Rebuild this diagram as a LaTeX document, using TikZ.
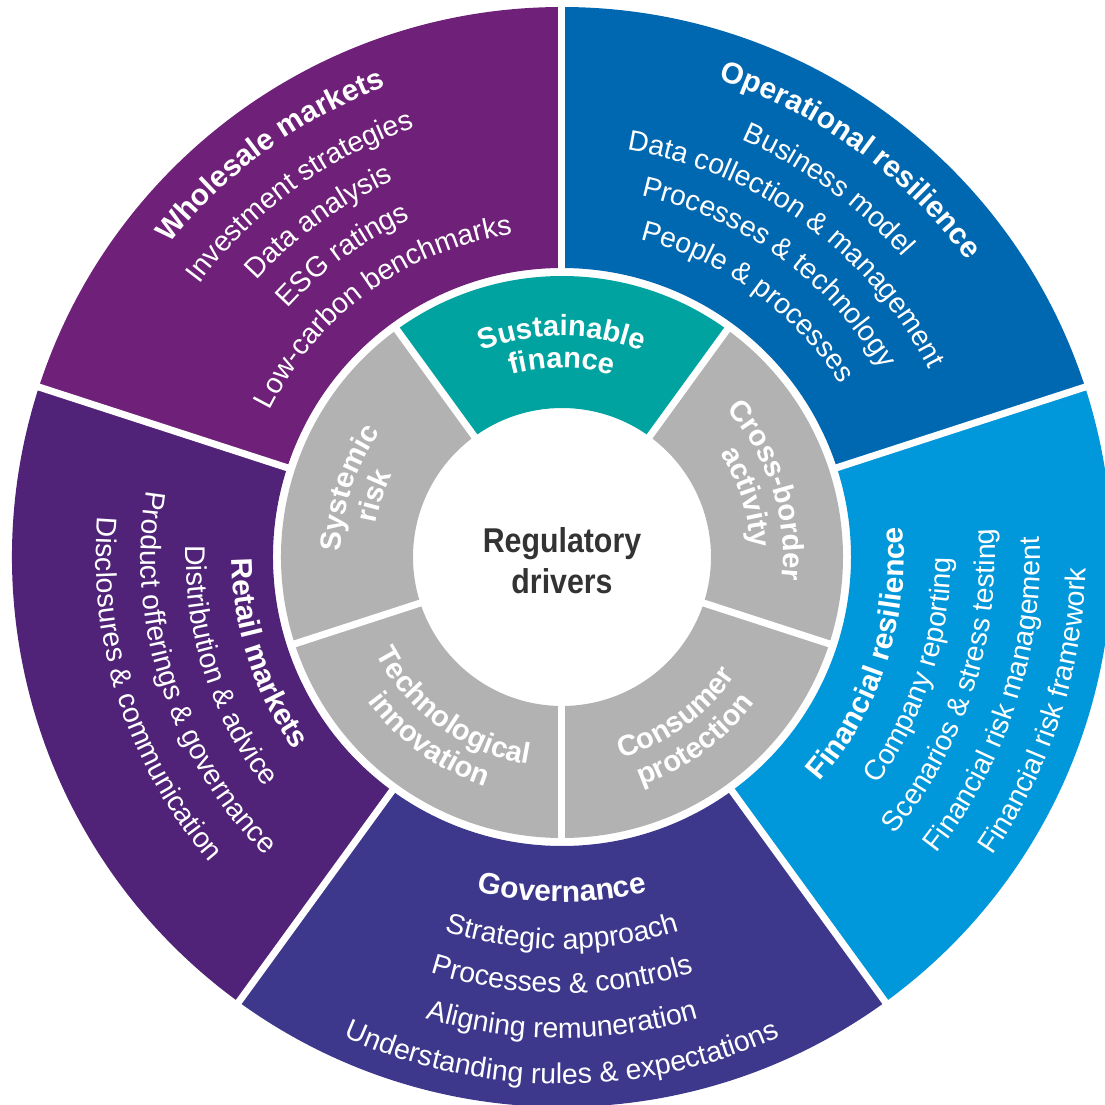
\documentclass[tikz,border=0pt]{standalone}
\usepackage{fontspec}
\setmainfont{Liberation Sans}
\newfontfamily\hubfont{Liberation Sans}[FakeStretch=0.88]
\usetikzlibrary{decorations.text}

\definecolor{wholesale}{HTML}{6F2079}
\definecolor{operational}{HTML}{0067B1}
\definecolor{financial}{HTML}{0098DA}
\definecolor{governance}{HTML}{3E388D}
\definecolor{retail}{HTML}{502278}
\definecolor{sustain}{HTML}{00A39F}
\definecolor{driver}{HTML}{B2B2B2}
\definecolor{hubtext}{HTML}{333333}

\newcommand\wheelhead{\fontsize{8.5}{10}\selectfont\bfseries}
\newcommand\wheelitem{\fontsize{8.1}{9.5}\selectfont}
\newcommand\wheeldriver{\fontsize{8.3}{9.5}\selectfont\bfseries}

\tikzset{
  gap/.style={white, line width=0.07cm},
  ringtext/.style={decorate, decoration={text along path, text align=center, text color=white, text={#1}}},
}

\begin{document}
\begin{tikzpicture}
  \useasboundingbox (-5.62,-5.48) rectangle (5.43,5.57);
  \clip (-5.62,-5.48) rectangle (5.43,5.57);

  % outer ring
  \fill[wholesale] (90:2.89) arc[start angle=90, end angle=162, radius=2.89] -- (162:5.5) arc[start angle=162, end angle=90, radius=5.5] -- cycle;
  \fill[operational] (18:2.89) arc[start angle=18, end angle=90, radius=2.89] -- (90:5.5) arc[start angle=90, end angle=18, radius=5.5] -- cycle;
  \fill[financial] (-54:2.89) arc[start angle=-54, end angle=18, radius=2.89] -- (18:5.5) arc[start angle=18, end angle=-54, radius=5.5] -- cycle;
  \fill[governance] (-126:2.89) arc[start angle=-126, end angle=-54, radius=2.89] -- (-54:5.5) arc[start angle=-54, end angle=-126, radius=5.5] -- cycle;
  \fill[retail] (162:2.89) arc[start angle=162, end angle=234, radius=2.89] -- (234:5.5) arc[start angle=234, end angle=162, radius=5.5] -- cycle;

  % inner ring
  \fill[sustain] (54:1.49) arc[start angle=54, end angle=126, radius=1.49] -- (126:2.81) arc[start angle=126, end angle=54, radius=2.81] -- cycle;
  \fill[driver] (-18:1.49) arc[start angle=-18, end angle=54, radius=1.49] -- (54:2.81) arc[start angle=54, end angle=-18, radius=2.81] -- cycle;
  \fill[driver] (-90:1.49) arc[start angle=-90, end angle=-18, radius=1.49] -- (-18:2.81) arc[start angle=-18, end angle=-90, radius=2.81] -- cycle;
  \fill[driver] (-162:1.49) arc[start angle=-162, end angle=-90, radius=1.49] -- (-90:2.81) arc[start angle=-90, end angle=-162, radius=2.81] -- cycle;
  \fill[driver] (126:1.49) arc[start angle=126, end angle=198, radius=1.49] -- (198:2.81) arc[start angle=198, end angle=126, radius=2.81] -- cycle;

  \draw[gap] (90:2.85) -- (90:5.6);
  \draw[gap] (18:2.85) -- (18:5.6);
  \draw[gap] (-54:2.85) -- (-54:5.6);
  \draw[gap] (-126:2.85) -- (-126:5.6);
  \draw[gap] (162:2.85) -- (162:5.6);
  \draw[gap] (54:1.45) -- (54:2.85);
  \draw[gap] (-18:1.45) -- (-18:2.85);
  \draw[gap] (-90:1.45) -- (-90:2.85);
  \draw[gap] (-162:1.45) -- (-162:2.85);
  \draw[gap] (126:1.45) -- (126:2.85);

  \node[font=\hubfont\fontsize{9.8}{11.6}\selectfont\bfseries, text=hubtext, align=center] (hub) at (0,-0.04) {Regulatory\\drivers};

  % wholesale markets
  \path[ringtext={|\wheelhead|Wholesale markets}] (166:5.02) arc[start angle=166, end angle=86, radius=5.02];
  \path[ringtext={|\wheelitem|Investment strategies}] (166:4.54) arc[start angle=166, end angle=86, radius=4.54];
  \path[ringtext={|\wheelitem|Data analysis}] (166:4.12) arc[start angle=166, end angle=86, radius=4.12];
  \path[ringtext={|\wheelitem|ESG ratings}] (166:3.70) arc[start angle=166, end angle=86, radius=3.70];
  \path[ringtext={|\wheelitem|Low-carbon benchmarks}] (166:3.27) arc[start angle=166, end angle=86, radius=3.27];

  % operational resilience
  \path[ringtext={|\wheelhead|Operational resilience}] (94:5.02) arc[start angle=94, end angle=14, radius=5.02];
  \path[ringtext={|\wheelitem|Business model}] (94:4.54) arc[start angle=94, end angle=14, radius=4.54];
  \path[ringtext={|\wheelitem|Data collection {\&} management}] (94:4.12) arc[start angle=94, end angle=14, radius=4.12];
  \path[ringtext={|\wheelitem|Processes {\&} technology}] (94:3.70) arc[start angle=94, end angle=14, radius=3.70];
  \path[ringtext={|\wheelitem|People {\&} processes}] (94:3.27) arc[start angle=94, end angle=14, radius=3.27];

  % financial resilience
  \path[ringtext={|\wheelhead|Financial resilience}] (-58:3.42) arc[start angle=-58, end angle=22, radius=3.42];
  \path[ringtext={|\wheelitem|Company reporting}] (-58:3.89) arc[start angle=-58, end angle=22, radius=3.89];
  \path[ringtext={|\wheelitem|Scenarios {\&} stress testing}] (-58:4.33) arc[start angle=-58, end angle=22, radius=4.33];
  \path[ringtext={|\wheelitem|Financial risk management}] (-58:4.78) arc[start angle=-58, end angle=22, radius=4.78];
  \path[ringtext={|\wheelitem|Financial risk framework}] (-58:5.24) arc[start angle=-58, end angle=22, radius=5.24];

  % governance
  \path[ringtext={|\wheelhead|Governance}] (-130:3.45) arc[start angle=-130, end angle=-50, radius=3.45];
  \path[ringtext={|\wheelitem|Strategic approach}] (-130:3.92) arc[start angle=-130, end angle=-50, radius=3.92];
  \path[ringtext={|\wheelitem|Processes {\&} controls}] (-130:4.36) arc[start angle=-130, end angle=-50, radius=4.36];
  \path[ringtext={|\wheelitem|Aligning remuneration}] (-130:4.81) arc[start angle=-130, end angle=-50, radius=4.81];
  \path[ringtext={|\wheelitem|Understanding rules {\&} expectations}] (-130:5.27) arc[start angle=-130, end angle=-50, radius=5.27];

  % retail markets
  \path[ringtext={|\wheelhead|Retail markets}] (158:3.30) arc[start angle=158, end angle=238, radius=3.30];
  \path[ringtext={|\wheelitem|Distribution {\&} advice}] (158:3.76) arc[start angle=158, end angle=238, radius=3.76];
  \path[ringtext={|\wheelitem|Product offerings {\&} governance}] (158:4.21) arc[start angle=158, end angle=238, radius=4.21];
  \path[ringtext={|\wheelitem|Disclosures {\&} communication}] (158:4.66) arc[start angle=158, end angle=238, radius=4.66];

  % drivers
  \path[ringtext={|\wheeldriver|Sustainable}] (130:2.21) arc[start angle=130, end angle=50, radius=2.21];
  \path[ringtext={|\wheeldriver|finance}] (130:1.89) arc[start angle=130, end angle=50, radius=1.89];
  \path[ringtext={|\wheeldriver|Cross-border}] (58:2.21) arc[start angle=58, end angle=-22, radius=2.21];
  \path[ringtext={|\wheeldriver|activity}] (58:1.89) arc[start angle=58, end angle=-22, radius=1.89];
  \path[ringtext={|\wheeldriver|Consumer}] (-94:2.10) arc[start angle=-94, end angle=-14, radius=2.10];
  \path[ringtext={|\wheeldriver|protection}] (-94:2.42) arc[start angle=-94, end angle=-14, radius=2.42];
  \path[ringtext={|\wheeldriver|Technological}] (-166:2.10) arc[start angle=-166, end angle=-86, radius=2.10];
  \path[ringtext={|\wheeldriver|innovation}] (-166:2.42) arc[start angle=-166, end angle=-86, radius=2.42];
  \path[ringtext={|\wheeldriver|Systemic}] (202:2.21) arc[start angle=202, end angle=122, radius=2.21];
  \path[ringtext={|\wheeldriver|risk}] (202:1.89) arc[start angle=202, end angle=122, radius=1.89];
\end{tikzpicture}
\end{document}
